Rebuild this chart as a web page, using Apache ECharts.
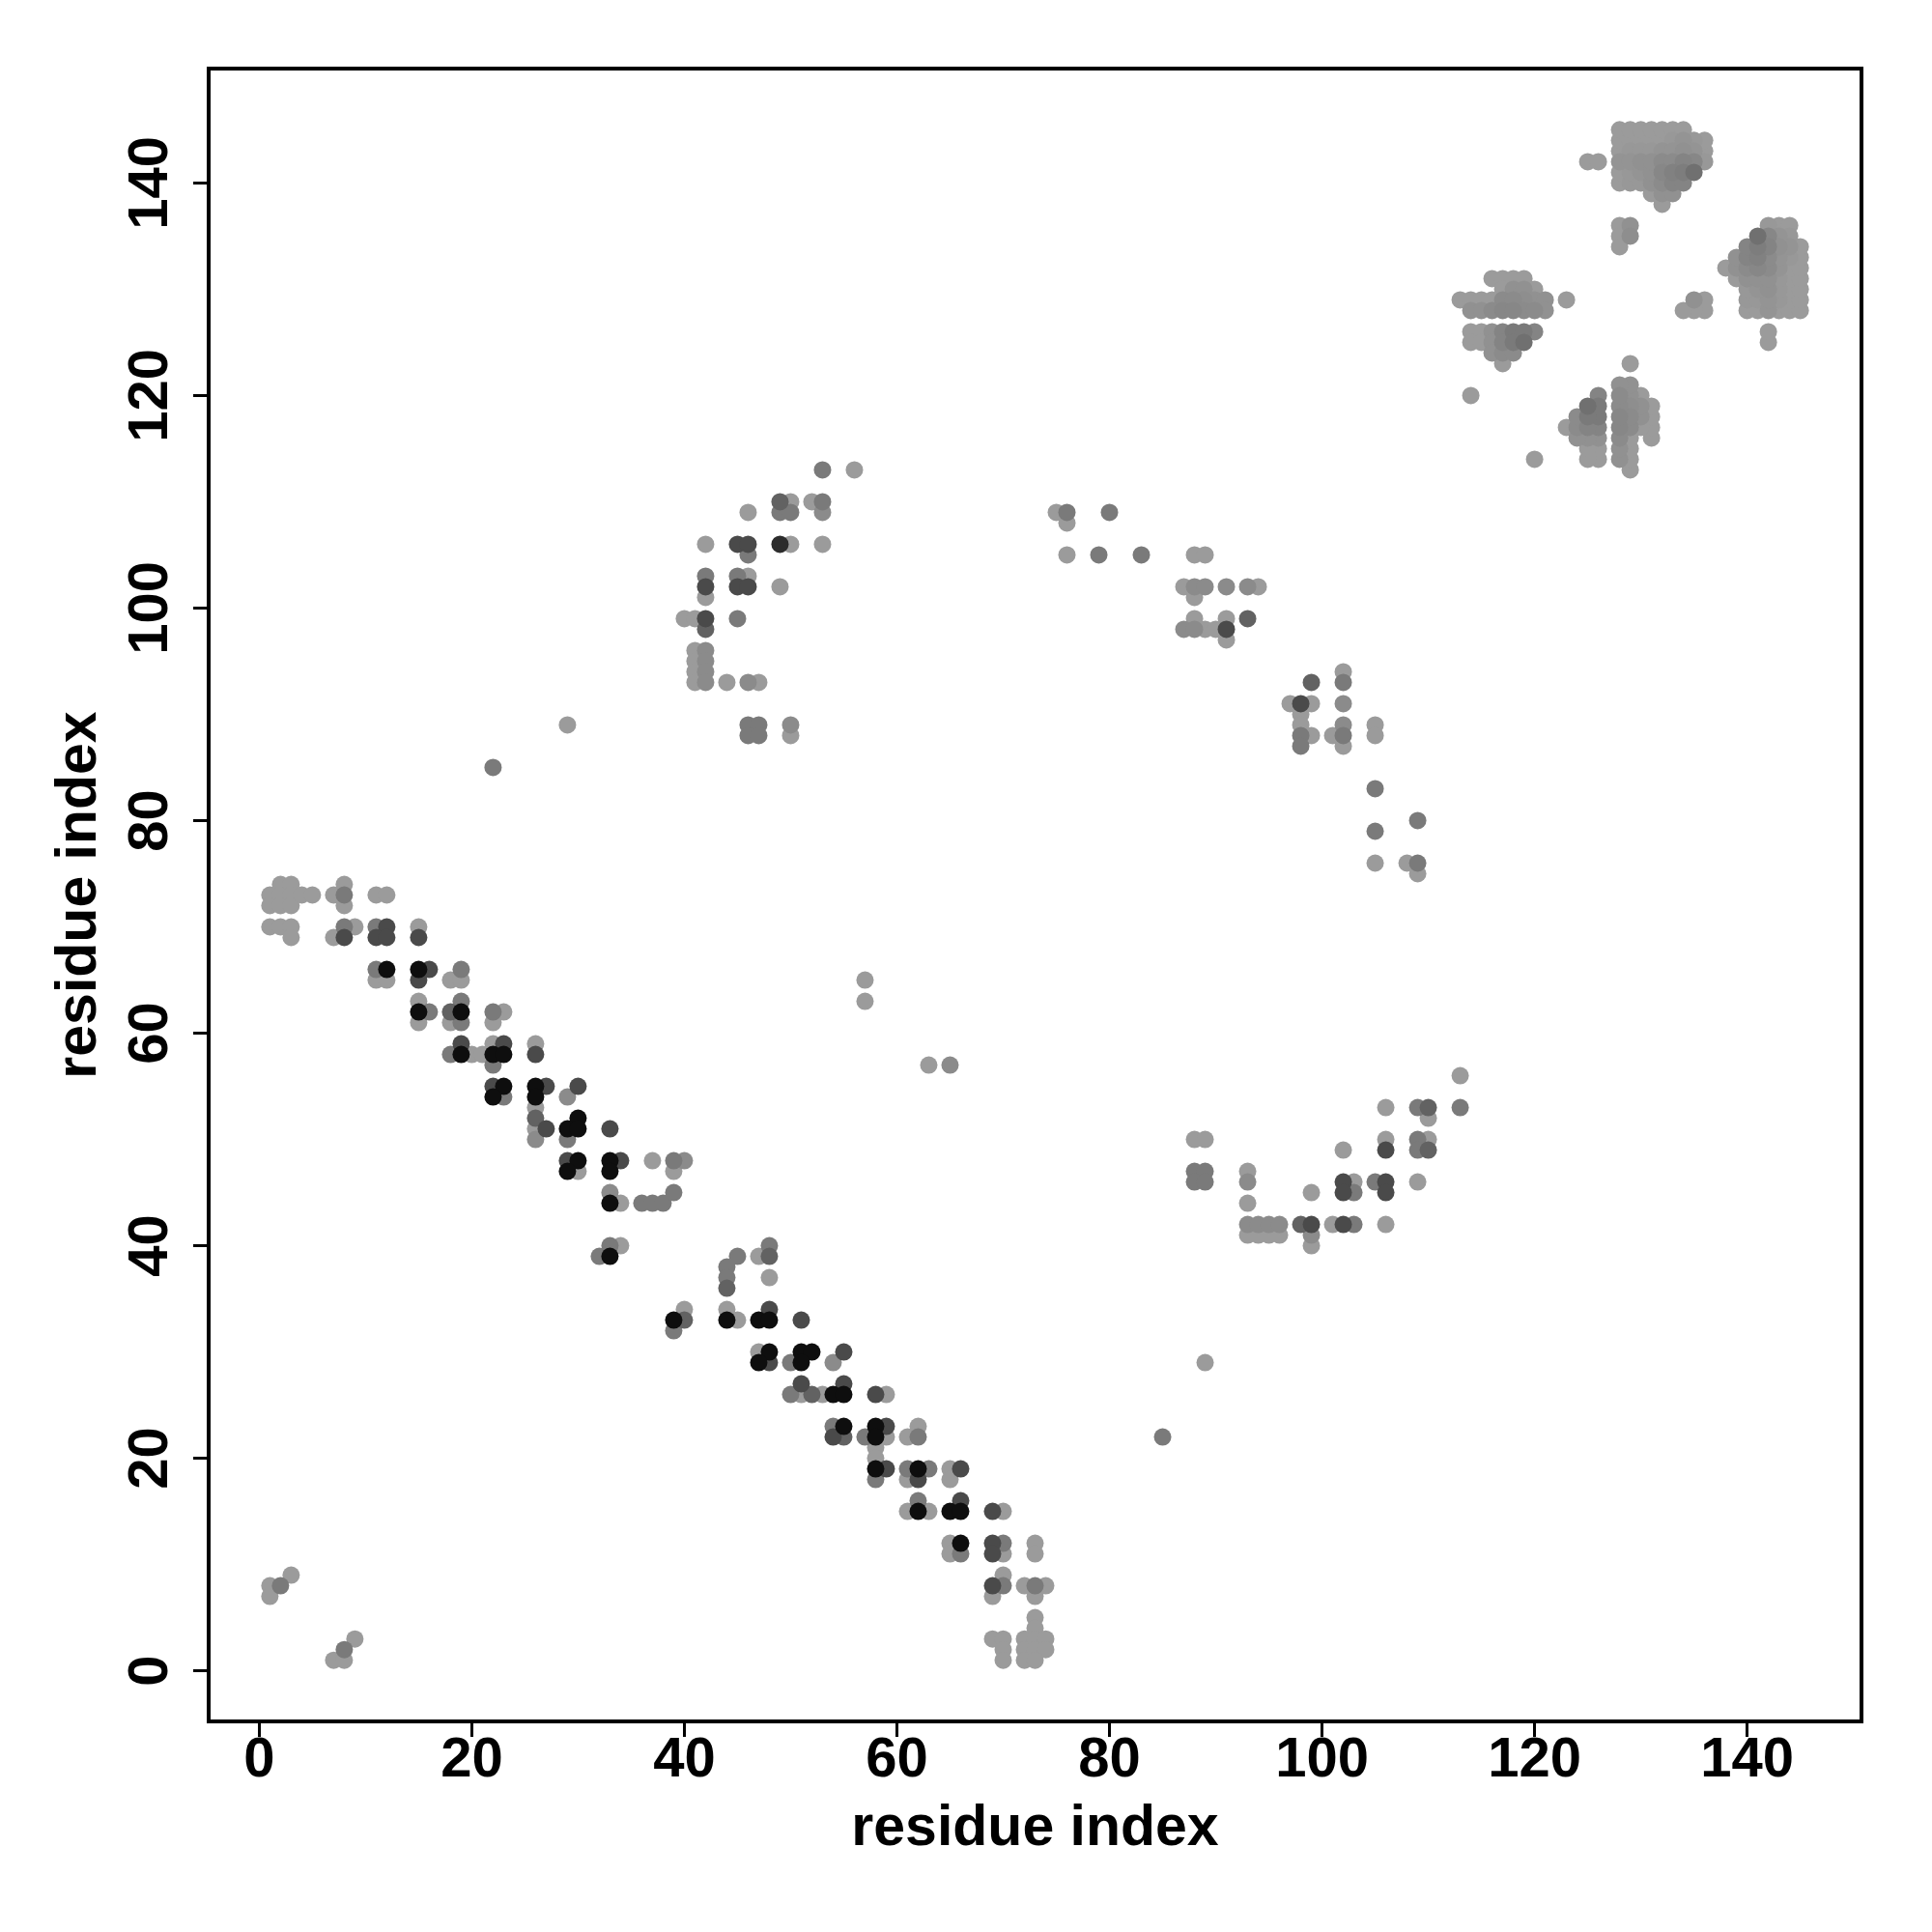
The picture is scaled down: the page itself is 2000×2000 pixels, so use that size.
<!DOCTYPE html>
<html>
<head>
<meta charset="utf-8">
<script src="https://cdn.jsdelivr.net/npm/echarts@6/dist/echarts.min.js"></script>
<style>html,body{margin:0;padding:0;background:#fff}#chart{width:2000px;height:2000px}</style>
</head>
<body>
<div id="chart"></div>
<script>
// Each point: [x residue, y residue, shade level (0 light grey ... 3 black)]
const tickValues = [0, 20, 40, 60, 80, 100, 120, 140];
const axisTitle = 'residue index';

const bandUpperLeft = [
[1,73,0],[1,72,0],[2,74,0],[2,73,0],[2,72,0],[3,74,0],[3,73,0],[3,72,0],[4,73,0],[5,73,0],
[1,70,0],[2,70,0],[3,70,0],[3,69,0],
[7,73,0],[8,74,0],[8,73,1],[8,72,0],[11,73,0],[12,73,0],
[7,69,0],[8,70,1],[8,69,2],[9,70,0],[11,70,1],[12,70,2],[11,69,2],[12,69,2],[15,70,0],[15,69,2],
[11,66,1],[12,66,3],[11,65,0],[12,65,0],
[15,66,3],[16,66,2],[15,65,2],[19,66,1],[18,65,0],[19,65,0],
[15,63,0],[15,62,3],[16,62,1],[15,61,0],[18,62,1.5],[19,63,1],[19,62,3],[18,61,0],[19,61,1],[22,62,1],[23,62,0],[22,61,0],
[18,58,1],[19,59,2],[19,58,3],[20,58,0],[21,58,0],[22,59,0],[23,59,2],[22,58,3],[23,58,3],[22,57,1],
[22,55,2],[23,55,3],[22,54,3],[23,54,1],
[26,59,0],[26,58,2],[26,55,3],[27,55,2],[26,54,3],[26,53,0],[26,52,1.5],[27,51,2],[26,51,0],[26,50,0.5],
[29,54,0.5],[30,55,2],[30,52,3],[29,51,3],[30,51,3],[29,50,1],[33,51,2],
[29,48,2],[30,48,3],[29,47,3],[30,47,0],
[33,48,3],[34,48,2],[33,47,3],
[37,48,0],[39,48,1],[40,48,0.5],[39,47,0],
[33,45,0.5],[33,44,3],[34,44,0],[36,44,1],[37,44,1],[38,44,1],[39,45,1],
[32,39,1],[33,40,1],[34,40,0],[33,39,3]
];

const bandLowerRight = [
[39,33,3],[40,34,0],[40,33,1.5],[39,32,1],
[44,34,0],[44,33,3],[45,33,0],
[44,38,1],[44,37,1],[44,36,1.5],[45,39,1],
[47,39,0],[48,40,1],[48,39,1.5],[48,37,0],
[47,33,3],[48,34,2],[48,33,3],[51,33,2],
[47,30,0],[48,30,3],[47,29,3],[48,29,2],
[50,29,1],[51,30,3],[52,30,3],[51,29,3],
[54,29,0.5],[55,30,2],
[50,26,1],[51,27,2],[51,26,0],[52,26,1.5],[53,26,0],[54,26,3],[55,27,2],[55,26,3],
[58,26,2],[59,26,0],
[54,23,1],[55,23,3],[54,22,2],[55,22,1.5],
[57,22,1],[58,23,3],[59,23,2],[58,22,3],[59,22,0],
[58,21,0],[58,20,0],
[61,22,0],[62,23,0],[62,22,1],
[58,19,3],[59,19,2],[58,18,1],
[61,19,1],[62,19,3],[63,19,1],[61,18,0],[62,18,2],
[65,19,0],[66,19,2],[65,18,0],
[61,15,0],[62,16,1],[62,15,3],[63,15,0],
[65,15,3],[66,16,2],[66,15,3],
[69,15,2],[70,15,0],
[65,12,0],[65,11,0],[66,12,3],[66,11,1],
[69,12,2],[70,12,1],[69,11,2],[70,11,0],
[73,12,0],[73,11,0],
[70,9,0],[69,8,2],[70,8,1],[69,7,0],
[72,8,0],[73,8,1],[74,8,0],[73,7,0],
[73,5,0],[73,4,0],
[69,3,0],[70,3,0],[70,2,0],[70,1,0],
[72,3,0],[73,3,0],[74,3,0],[72,2,0],[73,2,0],[74,2,0],[72,1,0],[73,1,0]
];

const cornerPoints = [[1,8,0],[2,8,1],[1,7,0],[3,9,0],[7,1,0],[8,2,1],[8,1,0],[9,3,0]];

const arcUpperLeft = [
[53,113,1],[56,113,0],
[46,109,0],[49,110,1.5],[50,110,0],[49,109,1],[50,109,1],[52,110,0],[53,110,1],[53,109,0.5],
[42,106,0],[45,106,2],[46,106,2],[46,105,1],[49,106,2.5],[50,106,0],[53,106,0],
[42,103,1],[42,102,2],[42,101,0],[45,103,1],[46,103,0],[45,102,2],[46,102,2],[49,102,0],
[40,99,0],[41,99,0],[42,99,2],[42,98,1.5],[45,99,1],
[41,96,0],[41,95,0],[41,94,0],[41,93,0],[42,96,0.5],[42,95,0.5],[42,94,0.5],[42,93,0.5],
[44,93,0],[46,93,0.5],[47,93,0],
[46,89,1],[47,89,1],[46,88,1],[47,88,1],[50,89,0.5],[50,88,0]
];

const arcLowerRight = [
[113,56,0],[113,53,1],
[106,53,0],[109,53,1],[110,53,1.5],[110,52,0],
[106,50,0],[106,49,2],[109,50,1],[110,50,0],[109,49,1],[110,49,1.5],
[102,49,0],[109,46,0],
[102,46,2],[103,46,0],[102,45,2],[103,45,1],[105,46,1],[106,46,2],[106,45,2],
[99,45,0],
[88,50,0],[89,50,0],[88,47,1],[89,47,1],[88,46,1],[89,46,1],
[93,47,0],[93,46,0.5],[93,44,0],
[93,42,0.5],[94,42,0.5],[95,42,0.5],[96,42,0.5],[93,41,0],[94,41,0],[95,41,0],[96,41,0],
[98,42,1.5],[99,42,2],[99,41,0.5],[99,40,0],
[101,42,0],[102,42,2],[103,42,1],[106,42,0]
];

const arcRight = [
[75,109,0],[76,109,1],[76,108,0],[80,109,1],
[76,105,0],[79,105,1],[83,105,1],
[88,105,0],[89,105,0],
[87,102,0],[88,102,0.5],[89,102,0.5],[88,101,0],[91,102,0.5],[93,102,0.5],[94,102,0],
[88,99,0],[91,99,0],[93,99,1.5],
[87,98,0.5],[88,98,0.5],[89,98,0],[90,98,0],[91,98,2],[91,97,0],
[99,93,1.5],[97,91,0],[98,91,2],[99,91,0],[98,90,0],[98,89,0],[99,88,0],[98,88,1],[98,87,1],
[102,94,0],[102,93,1],[102,91,0.5],[102,89,0.5],[102,88,1],[101,88,0],[102,87,0],
[105,89,0],[105,88,0],
[105,83,1],[105,79,1],[109,80,1],[105,76,0],[108,76,0],[109,76,1],[109,75,0]
];

const scattered = [[22,85,1],[29,89,0],[57,65,0],[57,63,0],[63,57,0],[65,57,0.5],[85,22,1],[89,29,0],
[114,120,0],[120,114,0],[125,142,0],[126,142,0],[142,125,0],[142,126,0]];

const clusterA = [
[116,131,0],[117,131,0],[118,131,0],[119,131,0],
[117,130,0],[118,130,0.3],[119,130,0.3],[120,130,0],
[113,129,0],[114,129,0],[115,129,0],[116,129,0],[117,129,0.5],[118,129,0.5],[119,129,0.4],[120,129,0.3],[121,129,0.3],[123,129,0],
[114,128,0.3],[115,128,0.3],[116,128,0.5],[117,128,0.6],[118,128,0.6],[119,128,0.5],[120,128,0.5],[121,128,0.3],
[114,126,0],[115,126,0],[116,126,0.3],[117,126,0.7],[118,126,1],[119,126,1],[120,126,0.7],
[114,125,0],[115,125,0],[116,125,0.3],[117,125,0.7],[118,125,1],[119,125,1.2],
[116,124,0.3],[117,124,0.5],[118,124,0.5],
[117,123,0]
];

const clusterB = [
[131,116,0],[131,117,0],[131,118,0],[131,119,0],
[130,117,0],[130,118,0.3],[130,119,0.3],[130,120,0],
[129,113,0],[129,114,0],[129,115,0],[129,116,0],[129,117,0.5],[129,118,0.5],[129,119,0.4],[129,120,0.3],[129,121,0.3],[129,123,0],
[128,114,0.3],[128,115,0.3],[128,116,0.5],[128,117,0.6],[128,118,0.6],[128,119,0.5],[128,120,0.5],[128,121,0.3],
[126,114,0],[126,115,0],[126,116,0.3],[126,117,0.7],[126,118,1],[126,119,1],[126,120,0.7],
[125,114,0],[125,115,0],[125,116,0.3],[125,117,0.7],[125,118,1],[125,119,1.2],
[124,116,0.3],[124,117,0.5],[124,118,0.5],
[123,117,0]
];

const clusterD = [
[128,140,0],[128,141,0],[128,142,0.2],[128,143,0],[128,144,0],[128,145,0],
[129,140,0.1],[129,141,0.1],[129,142,0.2],[129,143,0.1],[129,144,0],[129,145,0],
[130,140,0.1],[130,141,0.2],[130,142,0.3],[130,143,0.1],[130,144,0],[130,145,0],
[131,139,0],[131,140,0.3],[131,141,0.3],[131,142,0.3],[131,143,0.1],[131,144,0],[131,145,0],
[132,138,0],[132,139,0.3],[132,140,0.5],[132,141,0.6],[132,142,0.5],[132,143,0.2],[132,144,0],[132,145,0],
[133,139,0.3],[133,140,0.7],[133,141,0.8],[133,142,0.5],[133,143,0.2],[133,144,0.1],[133,145,0],
[134,140,0.7],[134,141,0.9],[134,142,0.7],[134,143,0.3],[134,144,0.2],[134,145,0],
[135,141,1.2],[135,142,0.6],[135,143,0.2],[135,144,0.1],
[136,142,0.1],[136,143,0],[136,144,0]
];

const clusterE = [
[140,128,0],[141,128,0],[142,128,0.2],[143,128,0],[144,128,0],[145,128,0],
[140,129,0.1],[141,129,0.1],[142,129,0.2],[143,129,0.1],[144,129,0],[145,129,0],
[140,130,0.1],[141,130,0.2],[142,130,0.3],[143,130,0.1],[144,130,0],[145,130,0],
[139,131,0],[140,131,0.3],[141,131,0.3],[142,131,0.3],[143,131,0.1],[144,131,0],[145,131,0],
[138,132,0],[139,132,0.3],[140,132,0.5],[141,132,0.6],[142,132,0.5],[143,132,0.2],[144,132,0],[145,132,0],
[139,133,0.3],[140,133,0.7],[141,133,0.8],[142,133,0.5],[143,133,0.2],[144,133,0.1],[145,133,0],
[140,134,0.7],[141,134,0.9],[142,134,0.7],[143,134,0.3],[144,134,0.2],[145,134,0],
[141,135,1.2],[142,135,0.6],[143,135,0.2],[144,135,0.1],
[142,136,0.1],[143,136,0],[144,136,0]
];

const clusterSmall = [
[128,136,0],[129,136,0.3],[128,135,0],[129,135,0.4],[128,134,0],
[136,128,0],[136,129,0],[135,128,0],[135,129,0.3],[134,128,0]
];

// ---- rendering ----
const allPoints = [].concat(bandUpperLeft, bandLowerRight, cornerPoints, arcUpperLeft,
  arcLowerRight, arcRight, scattered, clusterA, clusterB, clusterD, clusterE, clusterSmall)
  .slice().sort((a, b) => a[2] - b[2]);

const greyStops = [155, 122, 74, 14];
function shadeColor(s) {
  const i = Math.min(2, Math.floor(s));
  const f = s - i;
  const g = Math.round(greyStops[i] + (greyStops[i + 1] - greyStops[i]) * f);
  return 'rgb(' + g + ',' + g + ',' + g + ')';
}

const FONT = "'Liberation Sans', Arial, Helvetica, sans-serif";
const textStyle = { fontSize: 58, fontWeight: 'bold', color: '#000', fontFamily: FONT };
const titleStyle = { fontSize: 59, fontWeight: 'bold', color: '#000', fontFamily: FONT };

const chart = echarts.init(document.getElementById('chart'), null, { renderer: 'canvas' });
chart.setOption({
  animation: false,
  backgroundColor: '#fff',
  grid: { left: 216, right: 73, top: 71, bottom: 218, show: true, borderColor: '#000', borderWidth: 4, backgroundColor: 'transparent' },
  xAxis: {
    type: 'value', min: -4.76, max: 150.76,
    axisLine: { show: false, onZero: false }, splitLine: { show: false },
    axisTick: { show: true, length: 16, lineStyle: { color: '#000', width: 3 }, customValues: tickValues },
    axisLabel: Object.assign({ show: true, customValues: tickValues, margin: 12 }, textStyle),
    name: axisTitle, nameLocation: 'middle', nameGap: 82, nameTextStyle: titleStyle
  },
  yAxis: {
    type: 'value', min: -4.76, max: 150.76,
    axisLine: { show: false, onZero: false }, splitLine: { show: false },
    axisTick: { show: true, length: 16, lineStyle: { color: '#000', width: 3 }, customValues: tickValues },
    axisLabel: Object.assign({ show: true, customValues: tickValues, margin: 30, rotate: 90 }, textStyle),
    name: axisTitle, nameLocation: 'middle', nameGap: 104, nameRotate: 90, nameTextStyle: titleStyle
  },
  series: [{
    type: 'scatter',
    symbol: 'circle',
    symbolSize: 18,
    data: allPoints,
    encode: { x: 0, y: 1 },
    itemStyle: { color: p => shadeColor(p.value[2]), opacity: 1 },
    emphasis: { disabled: true }
  }]
});
</script>
</body>
</html>
